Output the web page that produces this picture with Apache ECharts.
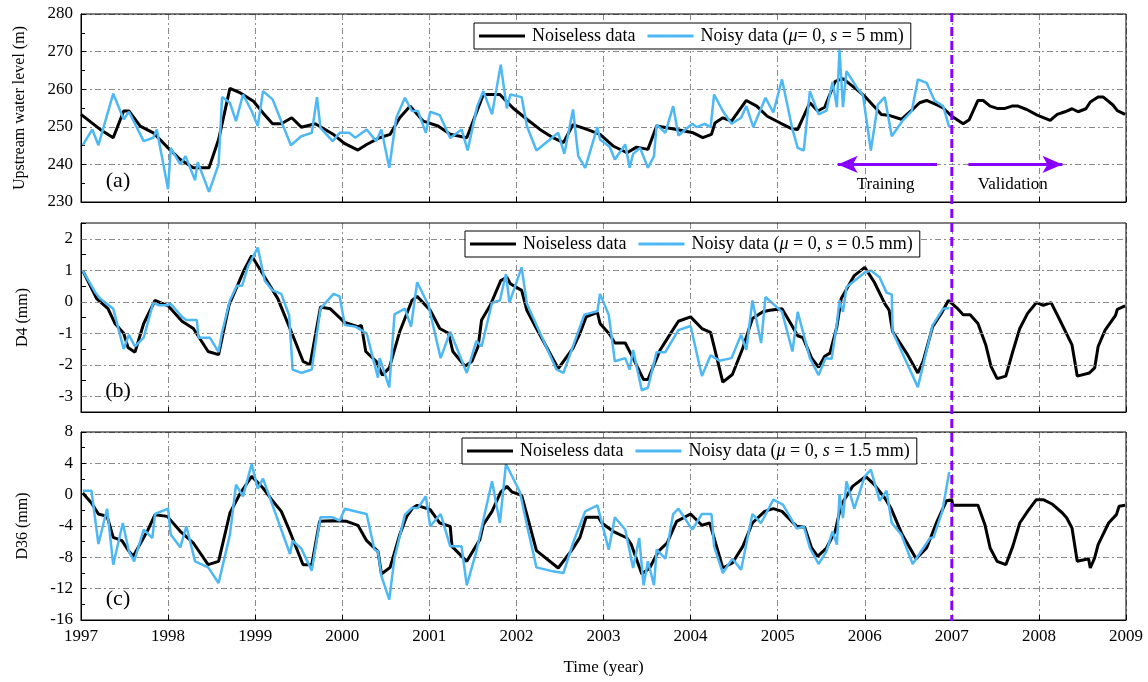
<!DOCTYPE html>
<html><head><meta charset="utf-8">
<script src="https://cdn.jsdelivr.net/npm/echarts@6/dist/echarts.min.js"></script>
<style>html,body{margin:0;padding:0;background:#fff}#c{width:1148px;height:682px}</style>
</head><body><div id="c"></div>
<script>
// ---------------- DATA ----------------
const xYears = [1997,1998,1999,2000,2001,2002,2003,2004,2005,2006,2007,2008,2009];
const splitYear = 2007;
const nameClean = 'Noiseless data';
const nameNoisyA = 'Noisy data (μ= 0, s = 5 mm)';
const nameNoisyB = 'Noisy data (μ = 0, s = 0.5 mm)';
const nameNoisyC = 'Noisy data (μ = 0, s = 1.5 mm)';
const yTicksA = [230,240,250,260,270,280];
const yTicksB = [-3,-2,-1,0,1,2];
const yTicksC = [-16,-12,-8,-4,0,4,8];

// Panel (a) upstream water level (m)
const aCleanX = [1997.0,1997.22,1997.37,1997.49,1997.55,1997.68,1997.83,1998.0,1998.14,1998.29,1998.47,1998.58,1998.71,1998.83,1998.98,1999.09,1999.2,1999.3,1999.42,1999.53,1999.69,1999.89,2000.03,2000.18,2000.28,2000.43,2000.55,2000.66,2000.78,2000.93,2001.1,2001.24,2001.43,2001.62,2001.81,2001.96,2002.12,2002.27,2002.42,2002.54,2002.65,2002.81,2002.96,2003.11,2003.27,2003.38,2003.51,2003.61,2003.84,2004.03,2004.14,2004.24,2004.28,2004.37,2004.47,2004.64,2004.76,2004.88,2005.03,2005.16,2005.23,2005.37,2005.46,2005.54,2005.66,2005.75,2005.91,2006.0,2006.14,2006.19,2006.27,2006.42,2006.55,2006.63,2006.71,2006.83,2006.9,2007.0,2007.13,2007.2,2007.3,2007.36,2007.44,2007.52,2007.61,2007.69,2007.76,2007.86,2007.98,2008.13,2008.21,2008.3,2008.38,2008.45,2008.54,2008.59,2008.68,2008.74,2008.85,2008.9,2008.99];
const aCleanY = [253.3,249.3,247.1,254.2,254.2,250.2,248.4,244.4,241.3,239.1,239.1,246.6,260.2,259,256.8,253.7,250.8,250.8,252.4,249.9,250.8,248.1,245.5,243.8,245.3,247.1,248,252.4,255.5,251.5,250.2,248,247.1,258.6,258.6,255,252,249.3,247.1,245.8,250.6,249.3,248,244.9,243.1,244.6,244,250.2,249.3,248.4,247.1,248,251,252.4,251.5,257,255.5,252.8,251,249.5,249.3,256.4,254.2,255.2,262.1,262.8,259.9,258.1,254.6,253.3,253.1,252,254.6,256.4,257,255.8,255,252.8,250.8,251.9,257,257,255.5,254.9,254.9,255.5,255.5,254.6,253.1,251.7,253.3,254,254.8,254,254.8,256.6,257.9,257.9,255.8,254.3,253.3];
const aNoisyX = [1997.02,1997.13,1997.2,1997.37,1997.49,1997.55,1997.72,1997.83,1997.87,1998.0,1998.03,1998.14,1998.2,1998.31,1998.34,1998.47,1998.58,1998.62,1998.71,1998.78,1998.86,1998.96,1999.03,1999.09,1999.2,1999.41,1999.53,1999.65,1999.71,1999.75,1999.89,1999.97,2000.08,2000.15,2000.28,2000.39,2000.45,2000.54,2000.62,2000.72,2000.8,2000.87,2000.96,2001.01,2001.12,2001.24,2001.37,2001.44,2001.55,2001.62,2001.72,2001.82,2001.89,2001.93,2002.06,2002.12,2002.23,2002.48,2002.55,2002.65,2002.71,2002.79,2002.93,2002.96,2003.07,2003.13,2003.25,2003.3,2003.34,2003.42,2003.51,2003.58,2003.61,2003.71,2003.8,2003.86,2004.02,2004.07,2004.16,2004.23,2004.27,2004.37,2004.47,2004.58,2004.64,2004.72,2004.86,2004.95,2005.05,2005.17,2005.23,2005.3,2005.37,2005.47,2005.56,2005.63,2005.68,2005.71,2005.75,2005.79,2005.91,2005.98,2006.07,2006.15,2006.23,2006.31,2006.44,2006.54,2006.61,2006.71,2006.8,2006.9,2006.97];
const aNoisyY = [245.1,249.3,245.1,258.8,252,254,246.2,247.1,249.3,233.4,244.4,240,242.2,235.8,240.6,232.7,240,257.9,256.4,251.5,258.6,254.2,250.2,259.5,257.3,245.1,247.5,248.4,257.9,249.7,246.2,248.4,248.4,247.1,249.3,246.2,249.3,239.1,252.4,257.7,254.2,254.2,248.4,254,253.1,247,249.3,243.7,255.5,259.5,253.3,266.5,254.9,258.6,257.9,250.2,243.7,248.4,242.8,254.6,242.2,239.1,249.9,246.6,244.7,241.3,245.3,239.1,242.8,244.4,239.1,242.2,250.6,248.4,255.5,247.7,250.8,249.9,250.8,249.9,258.6,254.2,250.8,252.4,255.5,249.9,257.7,253.8,262.6,249.3,244.4,243.7,259.5,253.3,254.3,261.9,255.2,270.5,255.2,264.8,260.4,258.3,243.7,255.9,257.9,247.5,251.8,254.2,262.6,261.7,257,255.5,249.9];

// Panel (b) D4 (mm)
const bCleanX = [1997.02,1997.18,1997.31,1997.39,1997.49,1997.54,1997.62,1997.72,1997.85,1998.0,1998.16,1998.29,1998.46,1998.58,1998.7,1998.87,1998.96,1999.11,1999.26,1999.46,1999.55,1999.63,1999.75,1999.86,2000.03,2000.18,2000.22,2000.27,2000.39,2000.46,2000.54,2000.66,2000.8,2000.86,2001.01,2001.12,2001.22,2001.27,2001.41,2001.49,2001.56,2001.6,2001.7,2001.82,2001.89,2001.93,2002.06,2002.12,2002.23,2002.48,2002.65,2002.73,2002.8,2002.93,2002.96,2003.07,2003.13,2003.25,2003.34,2003.46,2003.51,2003.65,2003.76,2003.86,2004.0,2004.13,2004.23,2004.37,2004.48,2004.6,2004.71,2004.83,2004.91,2005.05,2005.16,2005.23,2005.29,2005.39,2005.47,2005.54,2005.6,2005.68,2005.73,2005.88,2006.0,2006.11,2006.23,2006.28,2006.32,2006.48,2006.61,2006.67,2006.78,2006.89,2006.96,2007.06,2007.13,2007.21,2007.3,2007.39,2007.45,2007.52,2007.62,2007.7,2007.78,2007.87,2007.97,2008.05,2008.14,2008.24,2008.38,2008.44,2008.58,2008.64,2008.68,2008.76,2008.88,2008.9,2008.99];
const bCleanY = [0.99,0.1,-0.22,-0.69,-1.0,-1.45,-1.6,-0.69,0.04,-0.13,-0.62,-0.85,-1.58,-1.68,-0.11,0.99,1.46,0.78,0.1,-1.26,-1.89,-2.0,-0.17,-0.22,-0.66,-0.79,-0.75,-1.58,-1.89,-2.33,-2.1,-0.95,0.04,0.17,-0.27,-0.85,-1.0,-1.58,-2.05,-1.89,-1.42,-0.58,-0.11,0.67,0.78,0.57,0.36,-0.27,-0.85,-2.12,-1.47,-1.0,-0.48,-0.34,-0.69,-1.03,-1.31,-1.31,-1.79,-2.47,-2.47,-1.53,-1.05,-0.62,-0.48,-0.85,-0.97,-2.55,-2.31,-1.47,-0.53,-0.32,-0.27,-0.22,-0.74,-1.08,-1.14,-1.79,-2.08,-1.73,-1.63,-0.79,0.1,0.83,1.09,0.62,-0.06,-0.27,-0.95,-1.63,-2.26,-1.89,-0.79,-0.32,0.04,-0.2,-0.41,-0.41,-0.69,-1.37,-2.05,-2.44,-2.36,-1.58,-0.85,-0.37,-0.03,-0.11,-0.03,-0.58,-1.37,-2.36,-2.26,-2.1,-1.42,-0.9,-0.43,-0.24,-0.13];
const bNoisyX = [1997.02,1997.16,1997.22,1997.37,1997.49,1997.55,1997.62,1997.72,1997.83,1997.89,1998.0,1998.02,1998.16,1998.21,1998.33,1998.35,1998.48,1998.58,1998.62,1998.71,1998.79,1998.85,1998.92,1999.03,1999.11,1999.2,1999.3,1999.39,1999.43,1999.53,1999.65,1999.75,1999.9,1999.97,2000.03,2000.15,2000.28,2000.41,2000.43,2000.54,2000.6,2000.72,2000.79,2000.86,2000.99,2001.13,2001.24,2001.43,2001.54,2001.6,2001.72,2001.81,2001.88,2001.92,2002.06,2002.12,2002.46,2002.54,2002.78,2002.93,2002.96,2003.06,2003.13,2003.25,2003.3,2003.34,2003.44,2003.51,2003.61,2003.71,2003.86,2004.0,2004.13,2004.23,2004.33,2004.47,2004.58,2004.64,2004.71,2004.81,2004.86,2005.05,2005.17,2005.23,2005.37,2005.47,2005.55,2005.62,2005.68,2005.71,2005.75,2005.79,2006.0,2006.07,2006.17,2006.25,2006.31,2006.32,2006.61,2006.78,2006.9,2006.97];
const bNoisyY = [0.99,0.31,0.1,-0.22,-1.5,-1.05,-1.42,-1.14,-0.03,-0.11,-0.11,-0.03,-0.48,-0.58,-0.58,-1.14,-1.14,-1.6,-0.97,0.04,0.51,0.51,1.14,1.72,0.67,0.36,0.25,-0.43,-2.15,-2.26,-2.15,-0.22,0.25,0.17,-0.74,-0.79,-1.0,-2.41,-1.79,-2.72,-0.4,-0.22,-0.79,0.62,-0.11,-1.79,-0.95,-2.26,-1.24,-1.42,-0.03,0.04,0.88,-0.03,1.09,-0.06,-2.15,-2.26,-0.41,-0.3,0.25,-0.41,-1.89,-1.79,-2.15,-1.53,-2.81,-2.73,-1.6,-1.6,-0.9,-0.77,-2.36,-1.7,-1.87,-1.79,-1.05,-1.53,0.04,-1.31,0.15,-0.32,-1.58,-0.32,-1.79,-2.33,-1.79,-1.81,-0.69,0.04,-0.32,0.46,0.93,0.99,0.78,0.29,0.23,-0.95,-2.71,-0.74,-0.22,-0.2];

// Panel (c) D36 (mm)
const cCleanX = [1997.02,1997.12,1997.2,1997.3,1997.37,1997.47,1997.55,1997.6,1997.77,1997.85,1997.99,1998.14,1998.29,1998.46,1998.58,1998.71,1998.83,1998.96,1999.09,1999.19,1999.3,1999.39,1999.55,1999.65,1999.74,1999.89,2000.05,2000.18,2000.28,2000.41,2000.45,2000.55,2000.66,2000.74,2000.81,2000.86,2001.01,2001.12,2001.24,2001.26,2001.43,2001.58,2001.62,2001.72,2001.82,2001.89,2001.95,2002.06,2002.12,2002.23,2002.48,2002.64,2002.73,2002.8,2002.94,2002.98,2003.11,2003.27,2003.32,2003.44,2003.53,2003.63,2003.73,2003.84,2004.0,2004.13,2004.22,2004.37,2004.48,2004.6,2004.71,2004.85,2004.95,2005.05,2005.16,2005.22,2005.31,2005.39,2005.46,2005.56,2005.66,2005.73,2005.86,2006.01,2006.11,2006.23,2006.3,2006.43,2006.59,2006.71,2006.83,2006.94,2007.0,2007.01,2007.3,2007.38,2007.44,2007.52,2007.62,2007.7,2007.78,2007.87,2007.97,2008.05,2008.15,2008.27,2008.32,2008.38,2008.44,2008.57,2008.59,2008.64,2008.68,2008.8,2008.89,2008.92,2008.99];
const cCleanY = [0.21,-1.06,-2.47,-2.77,-5.45,-5.87,-7.23,-7.87,-4.47,-2.55,-2.77,-4.68,-6.17,-8.94,-8.51,-2.34,0.21,2.34,0.85,-0.64,-2.13,-4.47,-8.94,-8.94,-3.4,-3.32,-3.4,-3.91,-5.87,-7.23,-10.13,-9.28,-5.1,-2.77,-1.7,-1.36,-1.91,-3.62,-4.04,-6.6,-8.51,-5.74,-3.83,-2.13,0.34,1.06,0.34,-0.09,-2.55,-7.15,-9.36,-7.02,-5.45,-2.89,-2.89,-3.62,-4.68,-5.53,-6.38,-10.13,-9.36,-7.23,-6.17,-3.4,-2.47,-3.91,-3.62,-9.36,-8.72,-6.6,-3.62,-2.13,-1.79,-2.13,-3.4,-4.04,-4.17,-6.81,-7.87,-6.81,-4.68,-1.28,1.06,2.34,1.28,-0.43,-1.7,-5.1,-8.17,-6.81,-3.4,-0.77,-0.64,-1.36,-1.36,-3.83,-6.81,-8.51,-8.94,-6.6,-3.62,-2.13,-0.64,-0.64,-1.19,-2.34,-2.98,-4.26,-8.51,-8.17,-9.36,-8.08,-6.38,-3.62,-2.55,-1.49,-1.36];
const cNoisyX = [1997.02,1997.12,1997.2,1997.3,1997.37,1997.48,1997.55,1997.61,1997.72,1997.82,1997.85,1998.0,1998.03,1998.14,1998.21,1998.31,1998.46,1998.58,1998.71,1998.78,1998.86,1998.96,1999.03,1999.09,1999.4,1999.43,1999.53,1999.65,1999.75,1999.89,1999.97,2000.03,2000.18,2000.28,2000.37,2000.41,2000.45,2000.54,2000.6,2000.72,2000.8,2000.87,2000.96,2001.01,2001.13,2001.24,2001.37,2001.43,2001.54,2001.72,2001.81,2001.88,2002.04,2002.12,2002.23,2002.42,2002.54,2002.65,2002.79,2002.93,2003.06,2003.13,2003.25,2003.34,2003.41,2003.46,2003.51,2003.58,2003.61,2003.71,2003.8,2003.86,2004.02,2004.13,2004.24,2004.27,2004.37,2004.48,2004.58,2004.71,2004.81,2004.95,2005.06,2005.22,2005.3,2005.37,2005.47,2005.56,2005.63,2005.68,2005.71,2005.75,2005.79,2005.88,2006.0,2006.07,2006.17,2006.25,2006.31,2006.42,2006.55,2006.75,2006.79,2006.89,2006.97];
const cNoisyY = [0.51,0.51,-6.3,-1.79,-8.94,-3.62,-7.23,-8.51,-4.47,-5.53,-2.47,-1.79,-5.1,-6.72,-4.04,-8.51,-9.28,-11.28,-5.1,1.28,-0.21,3.92,0.77,2.04,-7.57,-5.87,-6.89,-9.7,-2.89,-2.89,-3.32,-1.79,-2.21,-2.47,-7.02,-7.23,-10.4,-13.4,-8.08,-2.55,-1.7,-1.7,-0.21,-4.04,-2.47,-6.6,-6.6,-11.57,-7.23,1.7,-3.62,3.92,0.34,-3.83,-9.28,-9.79,-10.0,-6.17,-2.13,-1.36,-7.02,-2.89,-4.47,-9.36,-5.53,-11.57,-8.51,-11.57,-7.02,-8.17,-2.47,-1.79,-4.47,-2.47,-2.47,-6.6,-10.0,-8.17,-9.57,-2.47,-3.62,-0.64,-1.28,-4.34,-4.04,-6.81,-8.85,-7.23,-4.68,-6.38,0,-2.98,1.7,-1.79,2.34,3.19,-0.77,0.51,-3.62,-5.1,-8.85,-5.53,-5.45,-2.13,2.89];

// ---------------- CHART ----------------
const FONT = "'Liberation Serif', 'Times New Roman', serif";
const BLACK = '#000000', BLUE = '#4db8f3', PURPLE = '#8a00ff', GRIDC = '#8a8a8a';
const DASH = [6, 3, 2, 3];
const zip = (xs, ys) => xs.map((x, i) => [x, ys[i]]);

const grids = [
  {left: 81, right: 22, top: 14, height: 188},
  {left: 81, right: 22, top: 223, height: 189},
  {left: 81, right: 22, top: 432, height: 188}
];

const xAxes = grids.map((g, i) => ({
  type: 'value', gridIndex: i, min: xYears[0], max: xYears[xYears.length - 1], interval: 1,
  axisLine: {show: true, onZero: false, lineStyle: {color: BLACK, width: 1}},
  axisTick: {show: true, inside: true, length: 5, lineStyle: {color: BLACK}},
  axisLabel: {show: i === 2, color: BLACK, fontFamily: FONT, fontSize: 17, margin: 8, formatter: v => String(v)},
  splitLine: {show: true, lineStyle: {color: GRIDC, type: DASH, width: 1}},
  name: i === 2 ? 'Time (year)' : '', nameLocation: 'middle', nameGap: 39,
  nameTextStyle: {color: BLACK, fontFamily: FONT, fontSize: 17}
}));

function yAxis(i, min, max, interval, name, gap, extra) {
  return Object.assign({
    type: 'value', gridIndex: i, min: min, max: max, interval: interval,
    axisLine: {show: true, onZero: false, lineStyle: {color: BLACK, width: 1}},
    axisTick: {show: true, inside: true, length: 5, lineStyle: {color: BLACK}},
    minorTick: {show: true, splitNumber: 2, length: 4, lineStyle: {color: BLACK}},
    axisLabel: {color: BLACK, fontFamily: FONT, fontSize: 17, margin: 8},
    splitLine: {show: true, lineStyle: {color: GRIDC, type: DASH, width: 1}},
    name: name, nameLocation: 'middle', nameGap: gap, nameRotate: 90,
    nameTextStyle: {color: BLACK, fontFamily: FONT, fontSize: 16}
  }, extra || {});
}

const yAxes = [
  yAxis(0, yTicksA[0], yTicksA[yTicksA.length - 1], 10, 'Upstream water level (m)', 53),
  yAxis(1, -3.5, 2.5, 0.5, 'D4 (mm)', 50, {
    minorTick: {show: false},
    splitLine: {show: false},
    axisLabel: {color: BLACK, fontFamily: FONT, fontSize: 17, margin: 8,
      formatter: v => (yTicksB.indexOf(v) >= 0 ? String(v) : '')}
  }),
  yAxis(2, yTicksC[0], yTicksC[yTicksC.length - 1], 4, 'D36 (mm)', 50)
];

function lineSeries(name, idx, data, color, width) {
  return {
    type: 'line', name: name, xAxisIndex: idx, yAxisIndex: idx, data: data,
    symbol: 'none', showSymbol: false, smooth: false, z: 3,
    lineStyle: {color: color, width: width}, itemStyle: {color: color},
    emphasis: {disabled: true}, animation: false
  };
}

const legendRich = {i: {fontStyle: 'italic', fontFamily: FONT, fontSize: 18, color: BLACK}};
const legendFmt = name => name.replace('μ', '{i|μ}').replace(', s =', ', {i|s} =');
function legend(left, top, noisy) {
  return {
    left: left, top: top, orient: 'horizontal',
    data: [{name: nameClean, icon: 'rect'}, {name: noisy, icon: 'rect'}],
    itemWidth: 46, itemHeight: 3, itemGap: 12,
    padding: [4, 7, 4, 5], borderColor: BLACK, borderWidth: 1, backgroundColor: '#fff',
    textStyle: {color: BLACK, fontFamily: FONT, fontSize: 18, padding: [0, 0, 0, 2], rich: legendRich},
    formatter: legendFmt, selectedMode: false, z: 10
  };
}

const seriesA0 = lineSeries(nameClean, 0, zip(aCleanX, aCleanY), BLACK, 3);
seriesA0.markLine = {
  silent: true, animation: false, symbol: ['none', 'arrow'], symbolSize: [13, 20],
  label: {show: false}, emphasis: {disabled: true},
  lineStyle: {color: PURPLE, width: 3, type: 'solid'},
  data: [
    [{coord: [2006.83, 240]}, {coord: [2005.69, 240]}],
    [{coord: [2007.19, 240]}, {coord: [2008.27, 240]}]
  ]
};

const gridB = {
  type: 'line', name: '_gridB', xAxisIndex: 1, yAxisIndex: 1, data: [], z: 1, silent: true,
  markLine: {
    silent: true, animation: false, symbol: 'none', label: {show: false}, emphasis: {disabled: true},
    lineStyle: {color: GRIDC, type: DASH, width: 1},
    data: yTicksB.map(v => ({yAxis: v}))
  }
};

const option = {
  backgroundColor: '#fff',
  animation: false,
  grid: grids.map(g => Object.assign({show: false}, g)),
  xAxis: xAxes,
  yAxis: yAxes,
  legend: [legend(474, 23, nameNoisyA), legend(465, 231, nameNoisyB), legend(462, 438, nameNoisyC)],
  series: [
    seriesA0,
    lineSeries(nameNoisyA, 0, zip(aNoisyX, aNoisyY), BLUE, 2.5),
    gridB,
    lineSeries(nameClean, 1, zip(bCleanX, bCleanY), BLACK, 3),
    lineSeries(nameNoisyB, 1, zip(bNoisyX, bNoisyY), BLUE, 2.5),
    lineSeries(nameClean, 2, zip(cCleanX, cCleanY), BLACK, 3),
    lineSeries(nameNoisyC, 2, zip(cNoisyX, cNoisyY), BLUE, 2.5)
  ]
};

const chart = echarts.init(document.getElementById('c'), null, {renderer: 'canvas'});
chart.setOption(option);

// Overlays computed from the library's scales
const px = (i, x, y) => chart.convertToPixel({xAxisIndex: i, yAxisIndex: i}, [x, y]);
const xMin = xYears[0], xMax = xYears[xYears.length - 1];
const boxes = [
  [px(0, xMin, yTicksA[yTicksA.length - 1]), px(0, xMax, yTicksA[0])],
  [px(1, xMin, 2.5), px(1, xMax, -3.5)],
  [px(2, xMin, yTicksC[yTicksC.length - 1]), px(2, xMax, yTicksC[0])]
];
const graphics = [];
boxes.forEach(b => {
  graphics.push({type: 'rect', z: 50, silent: true,
    shape: {x: b[0][0], y: b[0][1], width: b[1][0] - b[0][0], height: b[1][1] - b[0][1]},
    style: {fill: 'none', stroke: BLACK, lineWidth: 1}});
});
const letters = ['(a)', '(b)', '(c)'];
boxes.forEach((b, i) => {
  graphics.push({type: 'text', z: 50, silent: true, x: b[0][0] + 37, y: b[1][1] - 21,
    style: {text: letters[i], font: '22px ' + FONT, fill: BLACK, align: 'center', verticalAlign: 'middle'}});
});
const vTop = px(0, splitYear, yTicksA[yTicksA.length - 1]);
const vBot = px(2, splitYear, yTicksC[0]);
graphics.push({type: 'line', z: 60, silent: true,
  shape: {x1: vTop[0], y1: vTop[1] - 1, x2: vBot[0], y2: vBot[1] + 1},
  style: {stroke: PURPLE, lineWidth: 3, lineDash: [9, 5]}});
const tPos = px(0, 2006.24, 235);
const vPos = px(0, 2007.7, 235);
graphics.push({type: 'text', z: 50, silent: true, x: tPos[0], y: tPos[1] + 1,
  style: {text: 'Training', font: '17px ' + FONT, fill: BLACK, align: 'center', verticalAlign: 'middle'}});
graphics.push({type: 'text', z: 50, silent: true, x: vPos[0], y: vPos[1] + 1,
  style: {text: 'Validation', font: '17px ' + FONT, fill: BLACK, align: 'center', verticalAlign: 'middle'}});
chart.setOption({graphic: graphics});
</script>
</body></html>
